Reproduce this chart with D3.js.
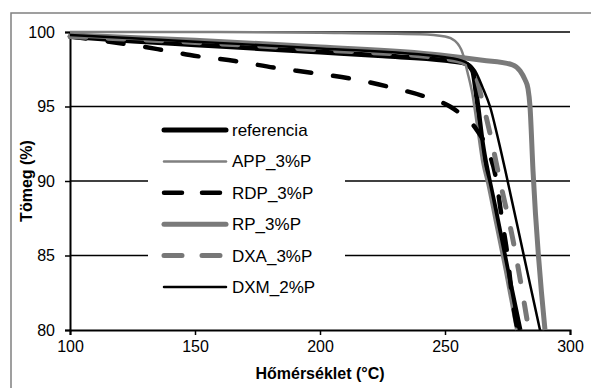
<!DOCTYPE html>
<html>
<head>
<meta charset="utf-8">
<script src="https://cdn.jsdelivr.net/npm/d3@7"></script>
<style>
  body { margin: 0; background: #fff; }
  svg { display: block; font-family: Arial, "Liberation Sans", sans-serif; }
</style>
</head>
<body>
<script>
// data: [temperature °C, mass %]
var referencia = [[100,99.7],[125,99.4],[150,99.15],[175,98.9],[200,98.65],[225,98.4],[250,98.1],[258,97.9],[261,97.4],[263,95.2],[265,92.5],[267,90.6],[270,88.2],[275,84],[280,80]];
var app = [[100,100],[150,100],[200,99.95],[240,99.85],[250,99.7],[254,99.4],[257,98.6],[259,97.3],[261,95.8],[263,93.5],[265,91.2],[267,89.8],[270,87.3],[274,84],[278.5,80]];
var rdp = [[100,99.7],[120,99.25],[135,98.85],[148,98.45],[166,98.05],[182,97.6],[197,97.25],[213,96.85],[228,96.3],[244,95.55],[252,95],[257,94.4],[262,93.6],[267,92.1],[270,90.5],[273,87.2],[275,85],[277,82],[279,80]];
var rp = [[100,99.8],[150,99.45],[200,99.0],[248,98.46],[265,98.1],[277,97.8],[280,97.4],[282,96.8],[283.2,96.2],[284,95],[285.2,90.7],[290,80]];
var dxa = [[100,99.7],[150,99.3],[200,98.8],[250,98.2],[258,97.9],[262,97.2],[265,95.3],[268,93.2],[272,90],[277,86.2],[283.5,80]];
var dxm = [[100,99.8],[150,99.35],[200,98.9],[250,98.3],[258,98],[262,97.4],[265,96.3],[268,95],[271,93],[274,90.8],[281,85.4],[288,80]];

var seriesNames = ["referencia", "APP_3%P", "RDP_3%P", "RP_3%P", "DXA_3%P", "DXM_2%P"];
var xTicks = [100, 150, 200, 250, 300];
var yTicks = [80, 85, 90, 95, 100];

var styles = [
  {color: "#000", width: 5, dash: null},
  {color: "#808080", width: 2.5, dash: null},
  {color: "#000", width: 4.5, dash: "16,22"},
  {color: "#7a7a7a", width: 5, dash: null},
  {color: "#777", width: 5, dash: "16,22"},
  {color: "#000", width: 2.5, dash: null}
];
var allData = [referencia, app, rdp, rp, dxa, dxm];

var W = 591, H = 388;
var svg = d3.select("body").append("svg").attr("width", W).attr("height", H);

// outer chart border
svg.append("rect").attr("x", 11).attr("y", 13).attr("width", 590).attr("height", 400)
  .attr("fill", "#fff").attr("stroke", "#808080").attr("stroke-width", 1.5);

var x = d3.scaleLinear().domain([100, 300]).range([70, 570]);
var y = d3.scaleLinear().domain([80, 100]).range([330, 32]);

// gridlines
svg.append("g").selectAll("line").data(yTicks.filter(d => d > 80)).join("line")
  .attr("x1", 70).attr("x2", 570)
  .attr("y1", d => y(d)).attr("y2", d => y(d))
  .attr("stroke", "#000").attr("stroke-width", 1.5);

// legend box (white, hides gridlines)
svg.append("rect").attr("x", 148).attr("y", 113).attr("width", 197).attr("height", 192)
  .attr("fill", "#fff");

// axes
var gx = svg.append("g").attr("transform", "translate(0,330)")
  .call(d3.axisBottom(x).tickValues(xTicks).tickSize(5).tickPadding(6));
var gy = svg.append("g").attr("transform", "translate(70,0)")
  .call(d3.axisLeft(y).tickValues(yTicks).tickSize(5).tickPadding(10));
[gx, gy].forEach(function (g) {
  g.select(".domain").attr("stroke", "#000").attr("stroke-width", 2);
  g.selectAll(".tick line").attr("stroke", "#000").attr("stroke-width", 1.5);
  g.selectAll(".tick text").attr("fill", "#000").style("font-size", "16px")
    .style("font-family", "Arial, 'Liberation Sans', sans-serif");
});

// lines
var line = d3.line().x(d => x(d[0])).y(d => y(d[1])).curve(d3.curveMonotoneX);
svg.append("g").selectAll("path").data(allData).join("path")
  .attr("d", line)
  .attr("fill", "none")
  .attr("stroke", (d, i) => styles[i].color)
  .attr("stroke-width", (d, i) => styles[i].width)
  .attr("stroke-dasharray", (d, i) => styles[i].dash)
  .attr("stroke-linecap", (d, i) => styles[i].dash ? "round" : "butt")
  .attr("stroke-linejoin", "round");

// legend entries
var leg = svg.append("g").selectAll("g").data(seriesNames).join("g")
  .attr("transform", (d, i) => "translate(0," + (130 + i * 31.4) + ")");
leg.append("line").attr("x1", 164).attr("x2", 226)
  .attr("stroke", (d, i) => styles[i].color)
  .attr("stroke-width", (d, i) => styles[i].width)
  .attr("stroke-dasharray", (d, i) => styles[i].dash ? "18,20" : null)
  .attr("stroke-linecap", "round");
leg.append("text").attr("x", 232).attr("y", 6)
  .style("font-size", "17px").attr("fill", "#000").text(d => d);

// axis titles
svg.append("text").attr("x", 320).attr("y", 379).attr("text-anchor", "middle")
  .style("font-size", "16px").style("font-weight", "bold").text("Hőmérséklet (°C)");
svg.append("text").attr("transform", "translate(32,181) rotate(-90)")
  .attr("text-anchor", "middle")
  .style("font-size", "16px").style("font-weight", "bold").text("Tömeg (%)");
</script>
</body>
</html>
